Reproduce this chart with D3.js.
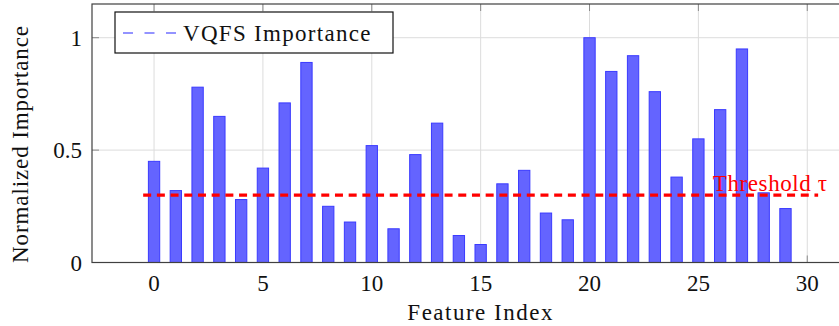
<!DOCTYPE html>
<html><head><meta charset="utf-8"><script src="https://cdn.jsdelivr.net/npm/d3@7"></script></head>
<body style="margin:0">
<script>
// feature importances
const features = d3.range(30);
const importance = [0.45, 0.32, 0.78, 0.65, 0.28, 0.42, 0.71, 0.89, 0.25, 0.18,
                    0.52, 0.15, 0.48, 0.62, 0.12, 0.08, 0.35, 0.41, 0.22, 0.19,
                    1.00, 0.85, 0.92, 0.76, 0.38, 0.55, 0.68, 0.95, 0.31, 0.24];
const xTicks = [0, 5, 10, 15, 20, 25, 30];
const yTicks = [0, 0.5, 1];
const threshold = 0.3;
const thresholdSpan = [-0.5, 30.5];
const thresholdLabelX = 28.3;

const width = 839;
const height = 326;
const marginTop = 4;
const marginLeft = 92;
const plotBottom = 262.5;
const plotRight = 841;
const fams = ["Liberation Serif"];
const fontOf = () => `"${fams[0]}"`;

const x = d3.scaleLinear()
    .domain([-2.85, 31.55])
    .range([marginLeft, plotRight]);

const y = d3.scaleLinear()
    .domain([0, 1.15])
    .range([plotBottom, marginTop]);

const svg = d3.select("body").append("svg")
    .attr("width", width)
    .attr("height", height);

// grid
svg.append("g")
    .attr("stroke", "#dcdcdc")
  .selectAll("line")
  .data(xTicks)
  .join("line")
    .attr("x1", d => x(d)).attr("x2", d => x(d))
    .attr("y1", marginTop).attr("y2", plotBottom);

svg.append("g")
    .attr("stroke", "#dcdcdc")
  .selectAll("line")
  .data(yTicks)
  .join("line")
    .attr("x1", marginLeft).attr("x2", plotRight)
    .attr("y1", d => y(d)).attr("y2", d => y(d));

// small inward ticks
const tickLen = 7;
const ticks = svg.append("g").attr("stroke", "#8a8a8a");
ticks.append("g").selectAll("line").data(xTicks).join("line")
    .attr("x1", d => x(d)).attr("x2", d => x(d))
    .attr("y1", plotBottom).attr("y2", plotBottom - tickLen);
ticks.append("g").selectAll("line").data(xTicks).join("line")
    .attr("x1", d => x(d)).attr("x2", d => x(d))
    .attr("y1", marginTop).attr("y2", marginTop + tickLen);
ticks.append("g").selectAll("line").data(yTicks).join("line")
    .attr("x1", marginLeft).attr("x2", marginLeft + tickLen)
    .attr("y1", d => y(d)).attr("y2", d => y(d));

// bars
const barW = 0.52;
svg.append("g")
    .attr("fill", "#6464ff")
    .attr("stroke", "#3a3aff")
    .attr("stroke-width", 1)
  .selectAll("rect")
  .data(features)
  .join("rect")
    .attr("x", i => x(i - barW / 2))
    .attr("width", x(barW) - x(0))
    .attr("y", i => y(importance[i]))
    .attr("height", i => y(0) - y(importance[i]));

// threshold line
svg.append("line")
    .attr("x1", x(thresholdSpan[0]))
    .attr("x2", x(thresholdSpan[1]))
    .attr("y1", y(threshold))
    .attr("y2", y(threshold))
    .attr("stroke", "#ff0000")
    .attr("stroke-width", 3.2)
    .attr("stroke-dasharray", "8,5.7");

// frame
svg.append("rect")
    .attr("x", marginLeft)
    .attr("y", marginTop)
    .attr("width", plotRight - marginLeft)
    .attr("height", plotBottom - marginTop)
    .attr("fill", "none")
    .attr("stroke", "#404040")
    .attr("stroke-width", 1.2);

// legend box + line
const legend = svg.append("g").attr("transform", "translate(115,12)");
legend.append("rect")
    .attr("width", 278)
    .attr("height", 41)
    .attr("fill", "#fff")
    .attr("stroke", "#111")
    .attr("stroke-width", 1.2);
legend.append("line")
    .attr("x1", 8).attr("x2", 62)
    .attr("y1", 21).attr("y2", 21)
    .attr("stroke", "#7070ff")
    .attr("stroke-width", 1.4)
    .attr("stroke-dasharray", "10,11.5");

// all texts in one place
const labels = [
  ...xTicks.map(d => ({t: String(d), x: x(d), y: 291, a: "middle"})),
  ...yTicks.map(d => ({t: d3.format("~g")(d), x: 82, y: y(d) + 8, a: "end"})),
  {t: "Feature Index", x: x(15), y: 320, a: "middle", ls: 1.5},
  {t: "Normalized Importance", x: 0, y: 0, a: "middle", ls: 0.9, tr: "translate(28,144) rotate(-90)"},
  {t: "VQFS Importance", x: 183, y: 41, a: "start", ls: 1.3},
  {t: "Threshold \u03c4", x: x(thresholdLabelX), y: y(threshold) - 4, a: "middle", ls: 0.6, c: "#ff0000"}
];

svg.append("g").selectAll("text").data(labels).join("text")
    .attr("x", d => d.x)
    .attr("y", d => d.y)
    .attr("transform", d => d.tr || null)
    .attr("text-anchor", d => d.a)
    .attr("font-size", 23)
    .attr("letter-spacing", d => d.ls || 0)
    .attr("fill", d => d.c || "#111")
    .style("font-family", fontOf, "important")
    .text(d => d.t);
</script>
</body>
</html>
